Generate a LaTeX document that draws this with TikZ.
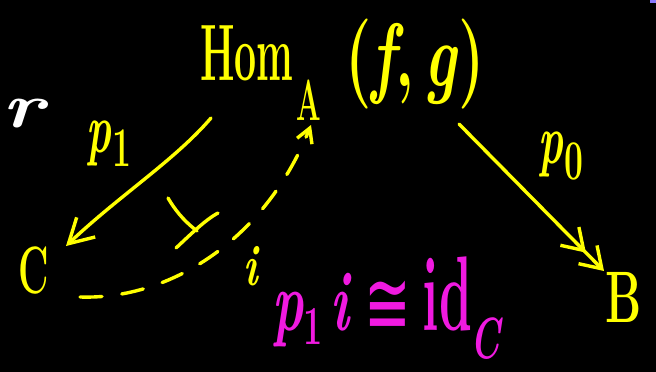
\documentclass[tikz,border=0pt]{standalone}
\usepackage{fontspec}
\newfontfamily\symfont{DejaVu Sans}
\usetikzlibrary{arrows.meta}
\definecolor{hy}{HTML}{FFFF00}
\definecolor{hm}{HTML}{F01AE0}
\definecolor{hb}{HTML}{8878FF}
\newcommand{\fs}[1]{\fontsize{#1}{#1}\selectfont}
\begin{document}
\begin{tikzpicture}[x=1pt,y=-1pt,
  stroke/.style={draw=hy,line width=3.4pt,line cap=round,line join=round},
  barb/.style={-{Straight Barb[length=24pt,width=27pt,line width=3.4pt]}},
  smallbarb/.style={-{Straight Barb[length=14pt,width=16pt,line width=3.4pt]}},
  dblbarb/.style={-{Straight Barb[length=20pt,width=26pt,line width=3.4pt,sep=1pt]Straight Barb[length=20pt,width=26pt,line width=3.4pt]}},
  txt/.style={inner sep=0pt,outer sep=0pt,text=hy,anchor=base west,font=\bfseries}]
\fill[black] (0,0) rectangle (656,372);
\useasboundingbox (0,0) rectangle (656,372);
\fill[hb] (650,0) rectangle (656,3);
% texts
\node[txt,text=white] (or) at (2,127) {\fs{63}\scalebox{1.3}[1]{\itshape r}};
\node[txt] (hom) at (200,80) {\fs{80}\scalebox{0.49}[1]{Hom}};
\node[txt] (A) at (296,120) {\fs{58}\scalebox{0.5}[1]{A}};
\node[txt] (fg) at (345,86) {\fs{90}\scalebox{0.67}[1]{(\textit{f},\,\textit{g})}};
\node[txt] (lp1) at (86,152) {\fs{70}\scalebox{0.6}[1]{\textit{p}\hspace{2pt}\raisebox{-14pt}{\fs{56}1}}};
\node[txt] (lp0) at (538,163) {\fs{70}\scalebox{0.6}[1]{\textit{p}\hspace{2pt}\raisebox{-16pt}{\fs{56}0}}};
\node[txt] (C) at (19,293) {\fs{67}\scalebox{0.56}[1]{C}};
\node[txt] (B) at (605,322) {\fs{73}\scalebox{0.62}[1]{B}};
\node[txt] (li) at (243,285) {\fs{58}\scalebox{0.7}[1]{\textit{i}}};
\node[txt,text=hm] (eq) at (272,330) {\fs{85}\scalebox{0.62}[1]{\textit{p}\raisebox{-14pt}{\fs{55}1}\hspace{12pt}\textit{i}\hspace{22pt}{\symfont\mdseries\fs{90}\raisebox{-4pt}{≅}}\hspace{18pt}\scalebox{1}[1.25]{id}\hspace{-3pt}\raisebox{-28pt}{\fs{58}\textit{C}}}};
% connector end points
\coordinate (p1s) at (211,118);
\coordinate (p1e) at (66,246);
\coordinate (p0s) at (459,124);
\coordinate (p0e) at (604,271);
\coordinate (ds) at (80,297);
\coordinate (de) at (311,125);
% connectors
\draw[stroke,barb] (p1s) .. controls (175,160) and (120,195) .. (p1e);
\draw[stroke,dblbarb] (p0s) -- (p0e);
\draw[stroke,smallbarb,dash pattern=on 22pt off 20pt] (ds) .. controls (170,300) and (265,240) .. (de);
% 2-cell mark
\draw[stroke] (168,198) .. controls (178,215) and (188,224) .. (197,231);
\draw[stroke] (176,248) .. controls (190,235) and (205,220) .. (218,213);
\end{tikzpicture}
\end{document}
